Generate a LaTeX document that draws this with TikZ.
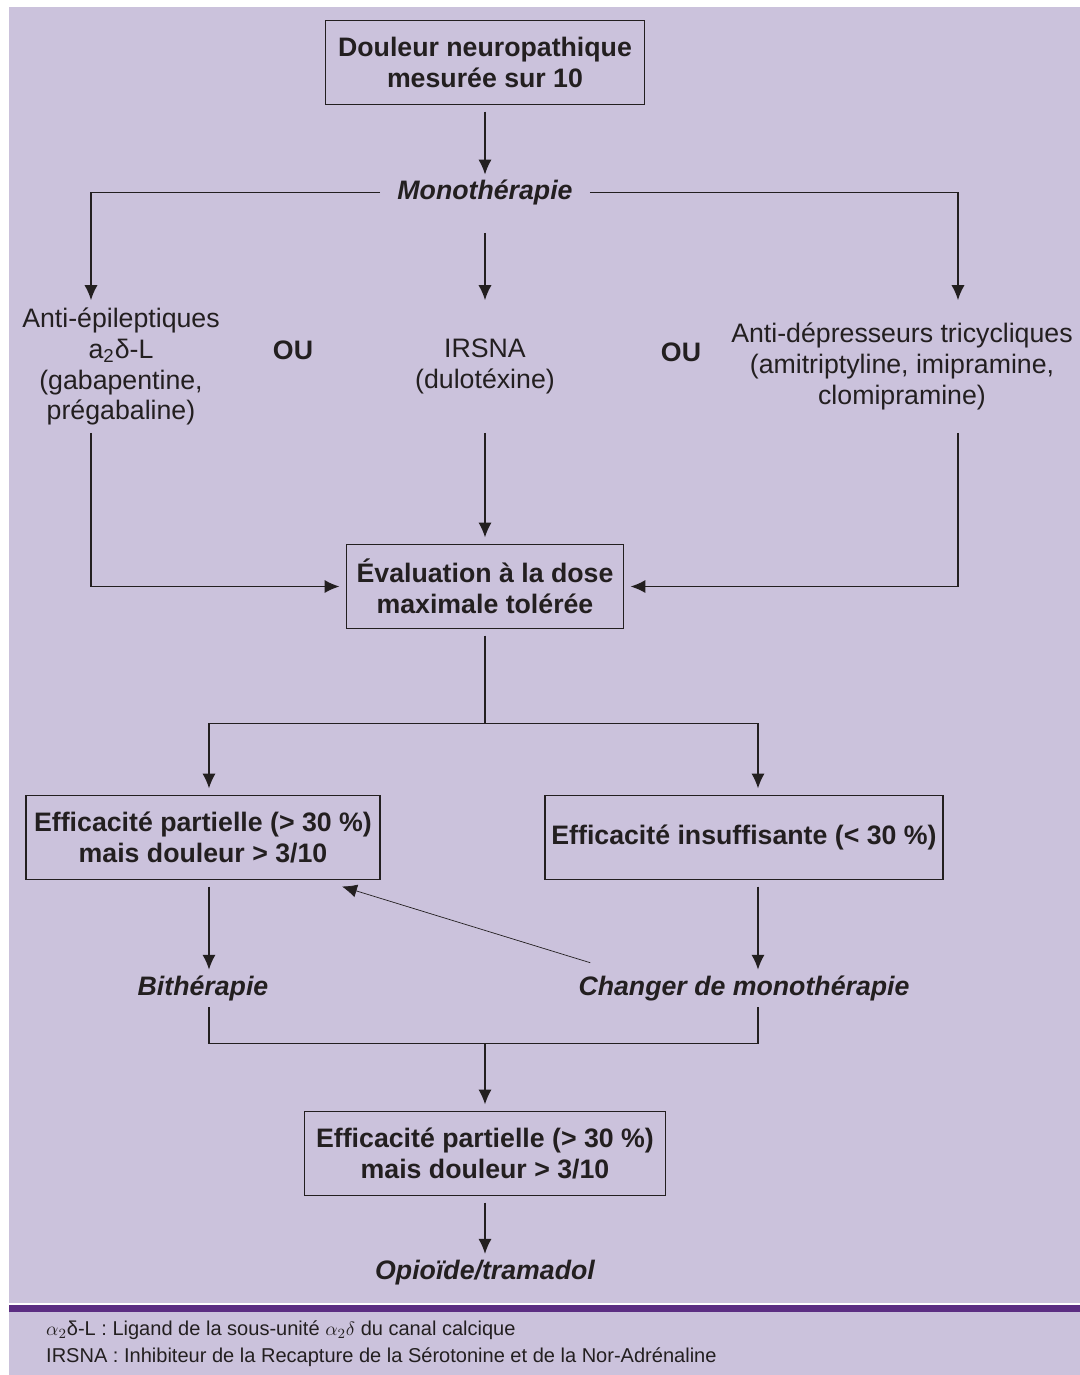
\documentclass[tikz,border=0pt]{standalone}
\usepackage{fontspec}
\setmainfont{Liberation Sans}
\usepackage{xcolor}
\usetikzlibrary{arrows.meta,positioning}

\definecolor{lavande}{RGB}{203,194,220}
\definecolor{bandeau}{RGB}{91,45,130}
\definecolor{encre}{RGB}{35,31,32}

\begin{document}
\begin{tikzpicture}[
        on grid,
        font = \fontsize{15.2}{17.6}\selectfont,
        every node/.style = {text = encre},
        boite/.style = {draw = encre, line width = 0.9pt, minimum height = 1.68cm, align = center, outer sep = 0.14cm, font = \fontsize{15.2}{17.6}\selectfont\bfseries},
        choix/.style = {align = center, minimum height = 2.64cm, inner sep = 0pt},
        etape/.style = {font = \fontsize{15.2}{17.6}\selectfont\bfseries\itshape},
        ou/.style = {font = \fontsize{15.2}{17.6}\selectfont\bfseries},
        pointe/.style = {encre, line width = 0.9pt, -{Latex[length = 8.5pt, width = 7.5pt]}},
        fleche/.style = {draw = encre, pointe},
        trait/.style = {draw = encre, line width = 0.9pt},
        note/.style = {anchor = west, font = \fontsize{11.4}{13}\selectfont}
    ]
        % fond
        \fill[lavande] (0.18, -0.14) rectangle (21.6, -27.5);
        \fill[white] (0.18, -26.06) rectangle (21.6, -26.1);
        \fill[bandeau] (0.18, -26.1) rectangle (21.6, -26.24);
        \useasboundingbox (0, 0) rectangle (21.6, -27.5);

        \node [boite, minimum width = 6.38cm] (douleur) at (9.7, -1.25) {Douleur neuropathique\\mesurée sur 10};
        \node [etape, inner xsep = 0.34cm, inner ysep = 0.1cm] (mono) [below = 2.6cm of douleur] {Monothérapie};
        \node [choix] (irsna) [below = 3.48cm of mono] {IRSNA\\(dulotéxine)};
        \node [choix] (antiep) [left = 7.28cm of irsna] {Anti-épileptiques\\a\textsubscript{2}δ-L\\(gabapentine,\\prégabaline)};
        \node [choix] (antidep) [right = 8.34cm of irsna] {Anti-dépresseurs tricycliques\\(amitriptyline, imipramine,\\clomipramine)};
        \node [ou] (ou1) [above left = 0.32cm and 3.84cm of irsna] {OU};
        \node [ou] (ou2) [above right = 0.28cm and 3.92cm of irsna] {OU};
        \node [boite, minimum width = 5.54cm] (eval) [below = 4.4cm of irsna] {Évaluation à la dose\\maximale tolérée};
        \coordinate [below = 2.74cm of eval] (split);
        \node [boite, minimum width = 7.08cm] (partielle) [below left = 5.02cm and 5.64cm of eval] {Efficacité partielle (> 30 \%)\\mais douleur > 3/10};
        \node [boite, minimum width = 7.96cm] (insuff) [below right = 5.02cm and 5.18cm of eval] {Efficacité insuffisante (< 30 \%)};
        \node [etape] (bith) [below = 3.02cm of partielle] {Bithérapie};
        \node [etape] (changer) [below = 3.02cm of insuff] {Changer de monothérapie};
        \node [boite, minimum width = 7.22cm] (partielle2) [below = 11.34cm of eval] {Efficacité partielle (> 30 \%)\\mais douleur > 3/10};
        \coordinate [above = 2.2cm of partielle2] (merge);
        \node [etape] (opio) [below = 2.38cm of partielle2] {Opioïde/tramadol};

        \node [note] (note1) at (0.8, -26.6) {$\alpha_2$δ-L : Ligand de la sous-unité $\alpha_2\delta$ du canal calcique};
        \node [note] (note2) at (0.8, -27.14) {IRSNA : Inhibiteur de la Recapture de la Sérotonine et de la Nor-Adrénaline};

        \path[pointe]
            (douleur) edge (mono)
            (mono) edge [shorten <= 0.45cm] (irsna)
            (irsna) edge (eval)
            (merge) edge (partielle2)
            (partielle2) edge (opio)
            ([xshift = 0.12cm]partielle.south) edge ([xshift = 0.12cm]bith.north)
            ([xshift = 0.28cm]insuff.south) edge ([xshift = 0.28cm]changer.north)
            ([shift = {(0.36cm, 0.14cm)}]changer.north west) edge [thin] ([xshift = -0.9cm]partielle.south east);

        \draw[fleche] (mono.west) -| ([xshift = -0.6cm]antiep.north);
        \draw[fleche] (mono.east) -| ([xshift = 1.12cm]antidep.north);
        \draw[fleche] ([xshift = -0.6cm]antiep.south) |- (eval.west);
        \draw[fleche] ([xshift = 1.12cm]antidep.south) |- (eval.east);
        \draw[trait] (eval.south) -- (split);
        \draw[fleche] (split) -| ([xshift = 0.12cm]partielle.north);
        \draw[fleche] (split) -| ([xshift = 0.28cm]insuff.north);
        \draw[trait] ([xshift = 0.12cm]bith.south) |- (merge) -| ([xshift = 0.28cm]changer.south);
    \end{tikzpicture}
\end{document}
